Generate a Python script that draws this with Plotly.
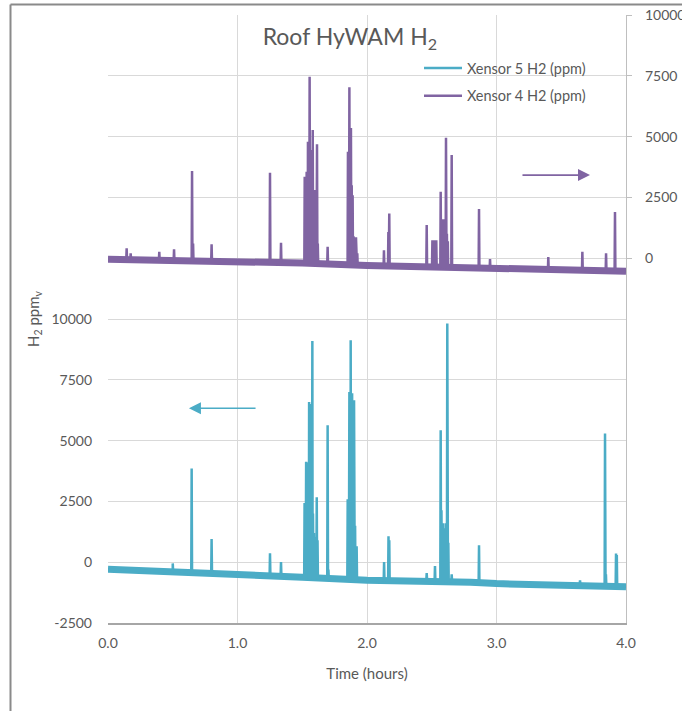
import numpy as np
import plotly.graph_objects as go

# ---- axis ticks ----
HOURS_TICKS = [0, 1, 2, 3, 4]
HOURS_LABELS = ["0.0", "1.0", "2.0", "3.0", "4.0"]
LEFT_TICKS = [-2500, 0, 2500, 5000, 7500, 10000]
LEFT_LABELS = ["-2500", "0", "2500", "5000", "7500", "10000"]
RIGHT_TICKS = [0, 2500, 5000, 7500, 10000]
RIGHT_LABELS = ["0", "2500", "5000", "7500", "10000"]

# ---- Xensor 5 (left axis): drifting baseline and H2 release peaks ----
X5_BASE_T = [0.0, 0.5, 1.0, 1.5, 2.0, 2.3, 2.5, 2.8, 3.0, 3.5, 3.8, 4.0]
X5_BASE_PPM = [-290, -380, -470, -620, -740, -770, -740, -820, -880, -930, -960, -1010]
X5_PEAK_T = [0.500, 0.646, 0.800, 1.251, 1.336,
             1.518, 1.524, 1.530, 1.536, 1.542, 1.548, 1.553, 1.558, 1.563,
             1.568, 1.573, 1.578, 1.583, 1.590, 1.598, 1.605, 1.612, 1.618,
             1.696, 1.702,
             1.851, 1.857, 1.864, 1.870, 1.874, 1.880, 1.885, 1.892, 1.900, 1.908, 1.920,
             2.132, 2.166, 2.172, 2.461, 2.525,
             2.569, 2.575, 2.581, 2.588, 2.595, 2.602, 2.610, 2.620, 2.628, 2.654,
             2.865, 3.645, 3.838, 3.845, 3.923, 3.929]
X5_PEAK_PPM = [-50, 3850, 950, 370, 10,
               2430, 1800, 4130, 3000, 4100, 2500, 6590, 6500, 3000,
               2000, 4000, 9100, 2000, 1200, 1040, 600, 2670, 900,
               5630, -300,
               2590, 2000, 7000, 5000, 9130, 6500, 6950, 3500, 6660, 1500, 660,
               10, 1070, 900, -450, -160,
               5430, 2140, 1200, 1600, 1400, 1000, 1600, 9810, 800, -500,
               700, -750, 5290, -500, 360, 300]

# ---- Xensor 4 (right axis) ----
X4_BASE_T = [0.0, 0.5, 1.0, 1.5, 2.0, 2.5, 3.0, 3.5, 4.0]
X4_BASE_PPM = [-40, -80, -120, -200, -300, -370, -430, -480, -535]
X4_PEAK_T = [0.144, 0.175, 0.396, 0.510, 0.649, 0.657, 0.800, 1.251, 1.336,
             1.519, 1.524, 1.529, 1.534, 1.539, 1.544, 1.550, 1.557, 1.563,
             1.569, 1.575, 1.581, 1.587, 1.593, 1.600, 1.607, 1.614, 1.620,
             1.696,
             1.853, 1.858, 1.864, 1.870, 1.876, 1.882, 1.889, 1.896, 1.915, 1.925,
             2.131, 2.165, 2.172, 2.461,
             2.505, 2.512, 2.520, 2.528, 2.535,
             2.569, 2.575, 2.582, 2.589, 2.595, 2.603, 2.610, 2.617, 2.624, 2.654,
             2.865, 2.950, 3.400, 3.663, 3.846, 3.915]
X4_PEAK_PPM = [410, 200, 260, 370, 3590, 600, 575, 3510, 630,
               3350, 2900, 3100, 3550, 3000, 4790, 3000, 7460, 4445,
               3000, 2800, 5270, 2180, 2800, 1500, 2500, 4690, 600,
               465,
               4375, 3000, 7025, 4000, 5350, 3000, 2590, 900, 860, 200,
               330, 1080, 1840, 1360,
               740, 700, 740, 720, 740,
               2730, 1200, 900, 1600, 900, 1200, 4950, 1000, 700, 4240,
               2020, -40, 50, 260, 200, 1900]

CYAN = "#4BACC6"
PURPLE = "#8064A2"
TEXT = "#595959"
GRID = "#d9d9d9"
FONT = "Lato"


def peak_path(base_t, base_ppm, peak_t, peak_ppm, half=0.003):
    """Baseline knots plus narrow peaks rising from the baseline, in time order."""
    feet = np.interp(peak_t, base_t, base_ppm)
    pts = list(zip(base_t, base_ppm))
    for t, p, f in zip(peak_t, peak_ppm, feet):
        pts += [(t - half, f), (t, p), (t + half, f)]
    pts.sort(key=lambda q: q[0])
    return [q[0] for q in pts], [q[1] for q in pts]


fig = go.Figure()

x5_t, x5_v = peak_path(X5_BASE_T, X5_BASE_PPM, X5_PEAK_T, X5_PEAK_PPM)
x4_t, x4_v = peak_path(X4_BASE_T, X4_BASE_PPM, X4_PEAK_T, X4_PEAK_PPM)

# noisy baseline band
fig.add_trace(go.Scatter(x=X5_BASE_T, y=X5_BASE_PPM, mode="lines",
                         line=dict(color=CYAN, width=7), legendgroup="x5",
                         showlegend=False, hoverinfo="skip", yaxis="y"))
fig.add_trace(go.Scatter(x=x5_t, y=x5_v, mode="lines", name="Xensor 5 H2 (ppm)",
                         line=dict(color=CYAN, width=2.5), legendgroup="x5",
                         yaxis="y"))
fig.add_trace(go.Scatter(x=X4_BASE_T, y=X4_BASE_PPM, mode="lines",
                         line=dict(color=PURPLE, width=7), legendgroup="x4",
                         showlegend=False, hoverinfo="skip", yaxis="y2"))
fig.add_trace(go.Scatter(x=x4_t, y=x4_v, mode="lines", name="Xensor 4 H2 (ppm)",
                         line=dict(color=PURPLE, width=2.5), legendgroup="x4",
                         yaxis="y2"))

fig.update_layout(
    width=682, height=711,
    margin=dict(l=108, r=56, t=15, b=88, autoexpand=False),
    paper_bgcolor="white", plot_bgcolor="white",
    font=dict(family=FONT, color=TEXT, size=14),
    title=dict(text="Roof HyWAM H<sub>2</sub>", x=0.513, xanchor="center",
               y=1 - 37 / 711, yanchor="middle", yref="container",
               font=dict(family=FONT, size=23, color=TEXT)),
    xaxis=dict(range=[0, 4], tickvals=HOURS_TICKS, ticktext=HOURS_LABELS,
               showgrid=True, gridcolor=GRID, gridwidth=1, zeroline=False,
               showline=True, linecolor="#a6a6a6", linewidth=1.5, ticks="",
               ticklabelstandoff=6, automargin=False,
               tickfont=dict(size=14, color=TEXT),
               title=dict(text="Time (hours)", standoff=19,
                          font=dict(size=15, color=TEXT))),
    yaxis=dict(range=[-2500, 22500], tickvals=LEFT_TICKS, ticktext=LEFT_LABELS,
               showgrid=True, gridcolor=GRID, gridwidth=1, zeroline=False,
               showline=False, ticks="", ticklabelstandoff=15, automargin=False,
               tickfont=dict(size=14, color=TEXT),
               title=dict(text="H<sub>2</sub> ppm<sub>v</sub>", standoff=8,
                          font=dict(size=15, color=TEXT))),
    yaxis2=dict(range=[-15000, 10000], tickvals=RIGHT_TICKS, ticktext=RIGHT_LABELS,
                overlaying="y", side="right", automargin=False,
                showgrid=True, gridcolor=GRID, gridwidth=1, zeroline=False,
                showline=True, linecolor="#bfbfbf", linewidth=1.2,
                ticks="outside", ticklen=5, tickcolor="#bfbfbf",
                ticklabelstandoff=10,
                tickfont=dict(size=14, color=TEXT)),
    legend=dict(x=(419 - 108) / 518, y=(623 - 52) / 608, xanchor="left", yanchor="top",
                bgcolor="rgba(0,0,0,0)", font=dict(size=14.5, color=TEXT),
                itemwidth=38, tracegroupgap=6),
    showlegend=True,
)

# direction arrows pointing to each series' axis
fig.add_annotation(x=3.722, y=3416, ax=3.189, ay=3416, xref="x", yref="y2",
                   axref="x", ayref="y2", text="", showarrow=True,
                   arrowhead=2, arrowsize=1.5, arrowwidth=1.6, arrowcolor=PURPLE)
fig.add_annotation(x=0.625, y=6332, ax=1.151, ay=6332, xref="x", yref="y",
                   axref="x", ayref="y", text="", showarrow=True,
                   arrowhead=2, arrowsize=1.5, arrowwidth=1.6, arrowcolor=CYAN)

# chart frame
frame_left = (10.5 - 108) / 518
frame_top = (623 - 4.5) / 608
fig.add_shape(type="line", xref="paper", yref="paper", x0=frame_left, x1=(682 - 108) / 518,
              y0=frame_top, y1=frame_top, line=dict(color="#8a8a8a", width=2))
fig.add_shape(type="line", xref="paper", yref="paper", x0=frame_left, x1=frame_left,
              y0=frame_top, y1=(623 - 711) / 608, line=dict(color="#8a8a8a", width=2))

fig.write_html("out.html")
